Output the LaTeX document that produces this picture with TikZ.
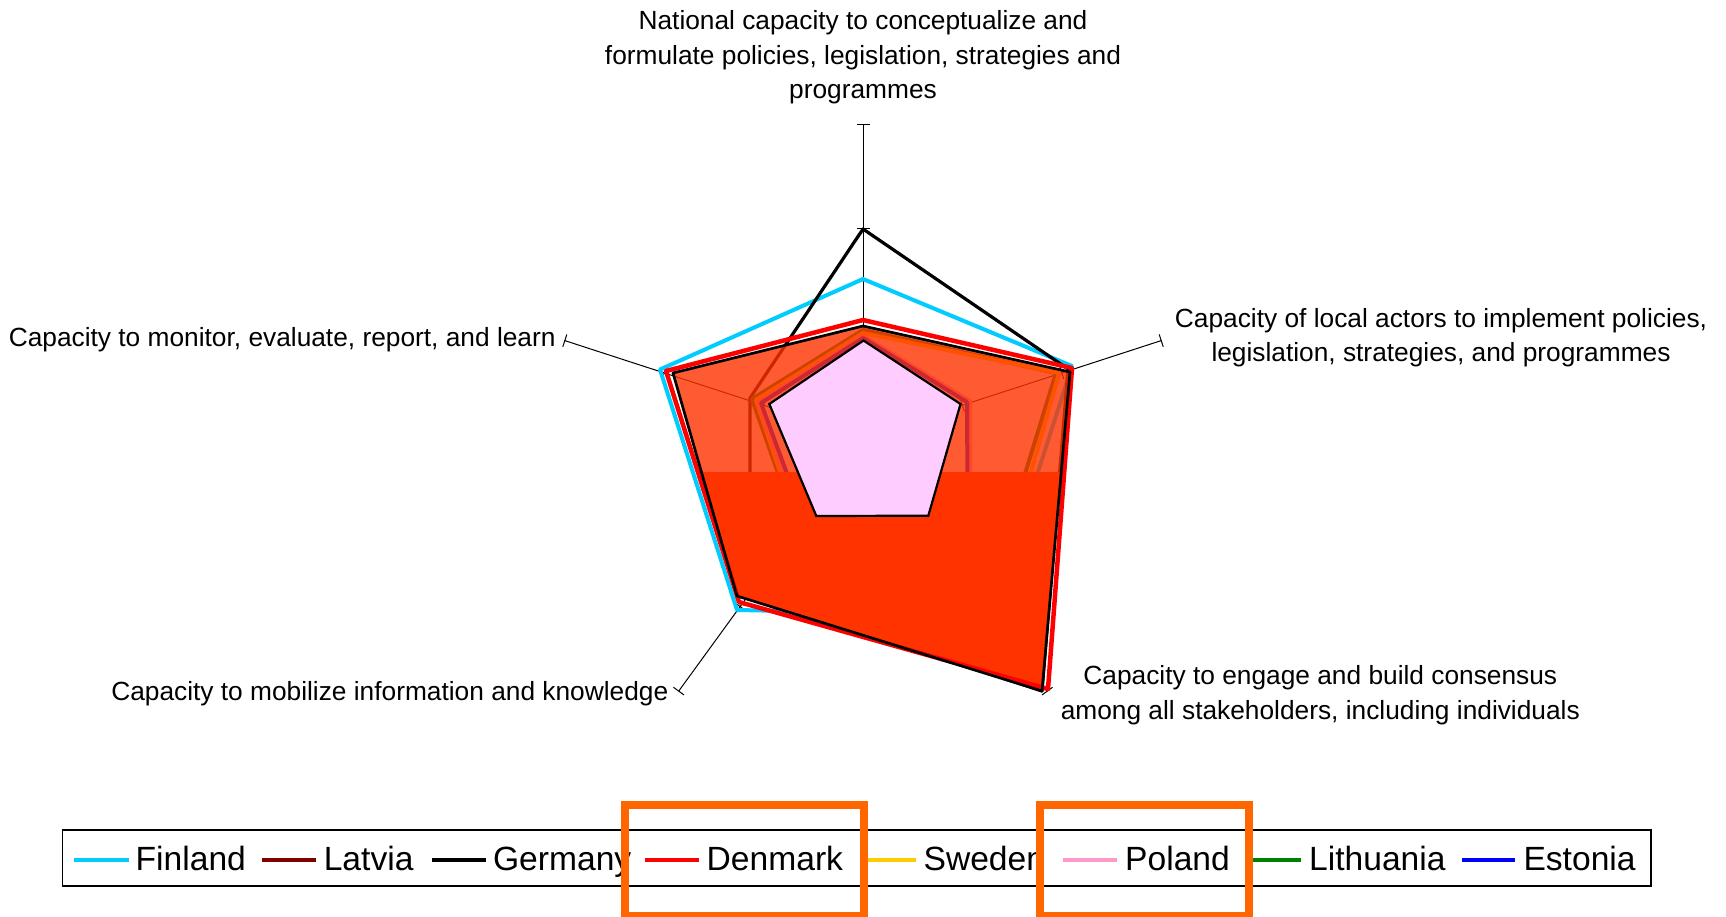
\documentclass[tikz,border=0pt]{standalone}
\usepackage{fontspec}
\setmainfont{Liberation Sans}
\usetikzlibrary{calc}
\definecolor{fin}{HTML}{00CCFF}
\definecolor{lat}{HTML}{800000}
\definecolor{den}{HTML}{FF0000}
\definecolor{swe}{HTML}{FFCC00}
\definecolor{pol}{HTML}{FF99CC}
\definecolor{lit}{HTML}{008000}
\definecolor{est}{HTML}{0000FF}
\definecolor{fillred}{HTML}{FF3300}
\definecolor{pinkfill}{HTML}{FFCCFF}
\definecolor{hl}{HTML}{FF6600}
\begin{document}
\begin{tikzpicture}[x=1pt,y=-1pt,
  axis/.style={line width=1pt,black},
  series/.style={line width=4pt,line join=round},
  lbl/.style={font=\fontsize{26.3}{34.5}\selectfont,anchor=base,inner sep=0pt},
  leg/.style={font=\fontsize{33.6}{40}\selectfont,anchor=base west,inner sep=0pt},
  legline/.style={line width=4pt},
  hlbox/.style={draw=hl,line width=8pt}]
\useasboundingbox (0,0) rectangle (1726,916);
\fill[white] (0,0) rectangle (1726,916);

% axes
\coordinate (C) at (863,437.5);
\coordinate (at) at (863,124);
\coordinate (ar) at (1161.2,340.6);
\coordinate (abr) at (1047.3,691.1);
\coordinate (abl) at (678.7,691.1);
\coordinate (al) at (564.8,340.6);
\foreach \e in {at,ar,abr,abl,al} {
  \draw[axis] (C) -- (\e);
  \foreach \f in {0.3333,0.6667,1} {
    \coordinate (tk) at ($(C)!\f!(\e)$);
    \draw[axis] ($(tk)!6.5pt!90:(C)$) -- ($(tk)!6.5pt!-90:(C)$);
  }
}

% series drawn beneath the translucent fill
\draw[series,fin] (863,279) -- (1072,366) -- (992,615) -- (737,610) -- (660,369.5) -- cycle;
\draw[series,black,line width=3.2pt] (863,229) -- (1068,369) -- (1042,691) -- (750,593) -- (750,398) -- cycle;
\draw[series,lit] (863,330) -- (1056,373) -- (985,604) -- (797,527) -- (752,399) -- cycle;
\draw[series,swe] (863,333) -- (1059,373) -- (991,613) -- (798,526) -- (756,400) -- cycle;
\draw[series,pol] (863,336) -- (970,401) -- (971,586) -- (801,523) -- (758,402) -- cycle;
\draw[series,est] (863,338) -- (967,402) -- (968,583) -- (804,520) -- (761,403) -- cycle;

% filled area
\fill[fillred,opacity=0.8] (863,326) -- (1070,372) -- (1042,691) -- (737,596) -- (673,373) -- cycle;
\begin{scope}
  \clip (600,472) rectangle (1100,700);
  \fill[fillred] (863,326) -- (1070,372) -- (1042,691) -- (737,596) -- (673,373) -- cycle;
\end{scope}

% Poland pentagon
\draw[fill=pinkfill,draw=black,line width=2.2pt,line join=miter] (863.5,340.5) -- (960.5,404) -- (928.3,515.7) -- (816.3,516) -- (769.3,404) -- cycle;

% Denmark and outer outline on top
\draw[series,den,line width=4.5pt] (863,320) -- (1072,368) -- (1048,689) -- (739,602) -- (666,371) -- cycle;
\draw[series,black,line width=2.7pt] (863,326) -- (1070,372) -- (1042,691) -- (737,596) -- (673,373) -- cycle;

% axis labels
\node[lbl] (top1) at (863,29.5) {National capacity to conceptualize and};
\node[lbl] (top2) at (863,64) {formulate policies, legislation, strategies and};
\node[lbl] (top3) at (863,98.5) {programmes};
\node[lbl] (rt1) at (1441,327.3) {Capacity of local actors to implement policies,};
\node[lbl] (rt2) at (1441,361.7) {legislation, strategies, and programmes};
\node[lbl] (lft) at (282.2,346) {Capacity to monitor, evaluate, report, and learn};
\node[lbl] (blt) at (389.8,700.5) {Capacity to mobilize information and knowledge};
\node[lbl] (brt1) at (1320.3,684.3) {Capacity to engage and build consensus};
\node[lbl] (brt2) at (1320.3,719) {among all stakeholders, including individuals};

% legend
\draw[line width=1.3pt] (62.7,830) rectangle (1651,886);
\draw[legline,fin] (73.8,860) -- (128.7,860);
\node[leg] (lgfin) at (135.5,870) {Finland};
\draw[legline,lat] (262,860) -- (316.3,860);
\node[leg] (lglat) at (323.6,870) {Latvia};
\draw[legline,black] (431.7,860) -- (486.1,860);
\node[leg] (lgger) at (492.9,870) {Germany};
\draw[legline,den] (645.4,860) -- (699.2,860);
\node[leg] (lgden) at (706.5,870) {Denmark};
\draw[legline,swe] (862,860) -- (915.7,860);
\node[leg] (lgswe) at (923.4,870) {Sweden};
\draw[legline,pol] (1063.2,860) -- (1116.8,860);
\node[leg] (lgpol) at (1125,870) {Poland};
\draw[legline,lit] (1247,860) -- (1300.6,860);
\node[leg] (lglit) at (1309,870) {Lithuania};
\draw[legline,est] (1461.9,860) -- (1515.4,860);
\node[leg] (lgest) at (1523.3,870) {Estonia};

% highlight boxes
\draw[hlbox] (624.7,804.7) rectangle (864,915.5);
\draw[hlbox] (1040,804.7) rectangle (1248.7,915.5);
\end{tikzpicture}
\end{document}
